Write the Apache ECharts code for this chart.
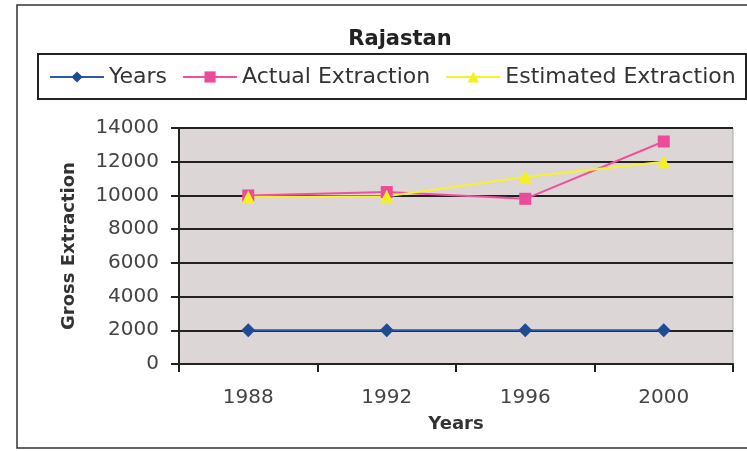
<!DOCTYPE html>
<html>
<head>
<meta charset="utf-8">
<script src="https://cdn.jsdelivr.net/npm/echarts@6/dist/echarts.min.js"></script>
<style>
  html, body { margin: 0; padding: 0; background: #fff; }
  #chart { width: 747px; height: 451px; }
</style>
</head>
<body>
<div id="chart"></div>
<script>
// data
const years = ["1988", "1992", "1996", "2000"];
const yearsSeries = [2000, 2000, 2000, 2000];
const actualExtraction = [10000, 10200, 9800, 13200];
const estimatedExtraction = [9900, 9950, 11100, 12000];
const yTicks = { min: 0, max: 14000, interval: 2000 };

const chart = echarts.init(document.getElementById("chart"));
const font = "DejaVu Sans, Verdana, sans-serif";

chart.setOption({
  backgroundColor: "#fff",
  animation: false,
  title: {
    text: "Rajastan",
    left: 395,
    textAlign: "center",
    top: 24,
    textStyle: { fontFamily: font, fontSize: 21, fontWeight: "bold", color: "#222" },
  },
  legend: {
    left: 44,
    top: 61,
    itemWidth: 54,
    itemHeight: 14,
    itemGap: 15,
    textStyle: { fontFamily: font, fontSize: 22, color: "#333" },
    data: ["Years", "Actual Extraction", "Estimated Extraction"],
  },
  graphic: [
    // outer chart frame
    {
      type: "rect",
      shape: { x: 17, y: 5, width: 740, height: 443 },
      style: { fill: "none", stroke: "#333", lineWidth: 1.5 },
      silent: true,
    },
    // legend box
    {
      type: "rect",
      shape: { x: 38, y: 54, width: 708, height: 45 },
      style: { fill: "none", stroke: "#222", lineWidth: 2 },
      silent: true,
    },
  ],
  grid: {
    left: 179,
    right: 14,
    top: 128,
    bottom: 87,
    show: true,
    backgroundColor: "#ddd6d6",
    borderColor: "#aaa",
    borderWidth: 1,
  },
  xAxis: {
    type: "category",
    data: years,
    boundaryGap: true,
    name: "Years",
    nameLocation: "middle",
    nameGap: 51,
    nameTextStyle: { fontFamily: font, fontSize: 18, fontWeight: "bold", color: "#333" },
    axisLine: { lineStyle: { color: "#222", width: 2 } },
    axisTick: { show: true, length: 8, lineStyle: { color: "#222", width: 2 } },
    axisLabel: { fontFamily: font, fontSize: 20, color: "#444", margin: 24 },
  },
  yAxis: {
    type: "value",
    min: yTicks.min,
    max: yTicks.max,
    interval: yTicks.interval,
    name: "Gross Extraction",
    nameLocation: "middle",
    nameGap: 101,
    nameRotate: 90,
    nameTextStyle: { fontFamily: font, fontSize: 18, fontWeight: "bold", color: "#333" },
    axisLine: { show: true, lineStyle: { color: "#222", width: 2 } },
    axisTick: { show: true, length: 8, lineStyle: { color: "#222", width: 2 } },
    axisLabel: {
      fontFamily: font,
      fontSize: 20,
      color: "#444",
      margin: 20,
      formatter: (v) => String(v),
    },
    splitLine: { lineStyle: { color: "#222", width: 2 } },
  },
  series: [
    {
      name: "Years",
      type: "line",
      data: yearsSeries,
      symbol: "diamond",
      symbolSize: 14,
      lineStyle: { color: "#2d5aa8", width: 2 },
      itemStyle: { color: "#1f4a94" },
    },
    {
      name: "Actual Extraction",
      type: "line",
      data: actualExtraction,
      symbol: "rect",
      symbolSize: 12,
      lineStyle: { color: "#f0509e", width: 2 },
      itemStyle: { color: "#ee4a9a" },
    },
    {
      name: "Estimated Extraction",
      type: "line",
      data: estimatedExtraction,
      symbol: "triangle",
      symbolSize: 13,
      lineStyle: { color: "#f7f230", width: 2 },
      itemStyle: { color: "#f5f020" },
    },
  ],
});
</script>
</body>
</html>
